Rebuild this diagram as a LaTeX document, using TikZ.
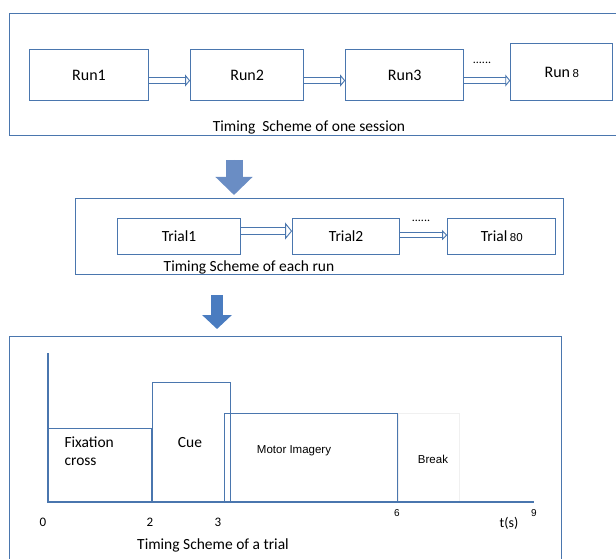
\documentclass[tikz,border=0pt]{standalone}
\usepackage{fontspec}
\setmainfont{Carlito}
\newfontfamily\arialfont{Liberation Sans}
\usetikzlibrary{positioning, arrows.meta, calc}
\definecolor{lineblue}{HTML}{4A76AE}
\definecolor{arrowA}{HTML}{6A8DC4}
\definecolor{arrowB}{HTML}{4A7CC0}

\begin{document}
\begin{tikzpicture}[
  x=1pt, y=-1pt,
  font=\fontsize{15.5}{18}\selectfont,
  frame/.style={draw=lineblue, line width=1.1pt, inner sep=0pt, anchor=north west},
  runbox/.style={draw=lineblue, line width=1.1pt, minimum height=51pt, inner sep=0pt, font=\fontsize{16}{19}\selectfont},
  trialbox/.style={draw=lineblue, line width=1.1pt, minimum height=36pt, inner sep=0pt, font=\fontsize{15.5}{18}\selectfont},
  phase/.style={draw=lineblue, line width=1.1pt, inner sep=0pt, anchor=south west},
  hollow/.style={draw=lineblue, line width=0.9pt, double=white, double distance=#1},
  bigarrow/.style={line width=17pt, -{Triangle[length=18pt, width=36pt]}},
  tick/.style={font=\fontsize{13}{15}\selectfont},
  smalltick/.style={font=\arialfont\fontsize{10}{12}\selectfont},
]
  \useasboundingbox (0,0) rectangle (616,559);

  % panels
  \node[frame, minimum width=608pt, minimum height=122pt] (sess) at (9,13) {};
  \node[frame, minimum width=488pt, minimum height=76pt] (runs) at (75,198) {};
  \node[frame, minimum width=552pt, minimum height=229pt] (trial) at (9,336) {};

  % one session
  \node[runbox, minimum width=119pt, anchor=north west] (run1) at (29,49) {Run1};
  \node[runbox, minimum width=113pt, right=41pt of run1] (run2) {Run2};
  \node[runbox, minimum width=118pt, right=41pt of run2] (run3) {Run3};
  \node[runbox, minimum width=102pt, minimum height=57pt, anchor=south west] (run8)
    at ($(run3.south east)+(46,0)$) {Run\,{\arialfont\fontsize{11.5}{13}\selectfont 8}};
  \draw[hollow=4.5pt, -{Triangle[open, length=5pt, width=12pt]}] ([yshift=-5.5pt]run1.east) -- ([yshift=-5.5pt]run2.west);
  \draw[hollow=4.5pt, -{Triangle[open, length=5pt, width=12pt]}] ([yshift=-5.5pt]run2.east) -- ([yshift=-5.5pt]run3.west);
  \draw[hollow=4.5pt, -{Triangle[open, length=5pt, width=12pt]}] ([yshift=-5.5pt]run3.east) -- ([yshift=-8.5pt]run8.west);
  \node[font=\fontsize{12}{14}\selectfont] (dots1) at (482,63) {......};
  \node (capsess) at (309,127) {Timing\ \ Scheme of one session};

  \coordinate (a1top) at (234,160);
  \coordinate (a1tip) at (234,195);
  \draw[bigarrow, draw=arrowA, fill=arrowA] (a1top) -- (a1tip);

  % each run
  \node[trialbox, minimum width=123pt, anchor=north west] (t1) at (117,218) {Trial1};
  \node[trialbox, minimum width=107pt, right=51pt of t1] (t2) {Trial2};
  \node[trialbox, minimum width=108pt, right=47pt of t2] (t80) {Trial\,{\arialfont\fontsize{11.5}{13}\selectfont 80}};
  \draw[hollow=5.5pt, -{Triangle[open, length=7pt, width=17pt]}] ([yshift=5.5pt]t1.east) -- ([yshift=5.5pt]t2.west);
  \draw[hollow=3.5pt, -{Triangle[open, length=5pt, width=10pt]}] ([yshift=1.5pt]t2.east) -- ([yshift=1.5pt]t80.west);
  \node[font=\fontsize{12}{14}\selectfont] (dots2) at (421,221) {......};
  \node (capruns) at (249,267) {Timing Scheme of each run};

  \coordinate (a2top) at (217,295);
  \coordinate (a2tip) at (217,329);
  \draw[bigarrow, line width=12pt, draw=arrowB, fill=arrowB, -{Triangle[length=14pt, width=29pt]}] (a2top) -- (a2tip);

  % a trial
  \coordinate (org) at (48,502);
  \coordinate (ytop) at (48,353);
  \coordinate (xend) at (534,502);
  \node[phase, minimum width=103pt, minimum height=73pt] (fix) at (org) {};
  \node[phase, minimum width=78pt, minimum height=119pt] (cue) at (fix.south east) {};
  \node[phase, minimum width=173pt, minimum height=88pt] (mi) at (224,502) {};
  \node[phase, draw=black!6, minimum width=61pt, minimum height=88pt] (brk) at (mi.south east) {};
  \draw[draw=lineblue, line width=1.1pt] (ytop) -- (org) -- (xend);

  \node[align=left, anchor=north west] (fixlbl) at ($(fix.north west)+(13,5)$) {Fixation\\cross};
  \node (cuelbl) at (190,443) {Cue};
  \node[font=\arialfont\fontsize{11.5}{13}\selectfont] (milbl) at (294,451) {Motor Imagery};
  \node[font=\arialfont\fontsize{11.5}{13}\selectfont] (brklbl) at (433,459) {Break};

  \node[tick] (n0) at (43,522) {0};
  \node[tick] (n2) at (150,522) {2};
  \node[tick] (n3) at (218,522) {3};
  \node[smalltick] (n6) at (397,513) {6};
  \node[smalltick] (n9) at (534,513) {9};
  \node[font=\fontsize{14}{16}\selectfont] (tsec) at (509,523) {t(s)};
  \node (captrial) at (213,545) {Timing Scheme of a trial};
\end{tikzpicture}
\end{document}
